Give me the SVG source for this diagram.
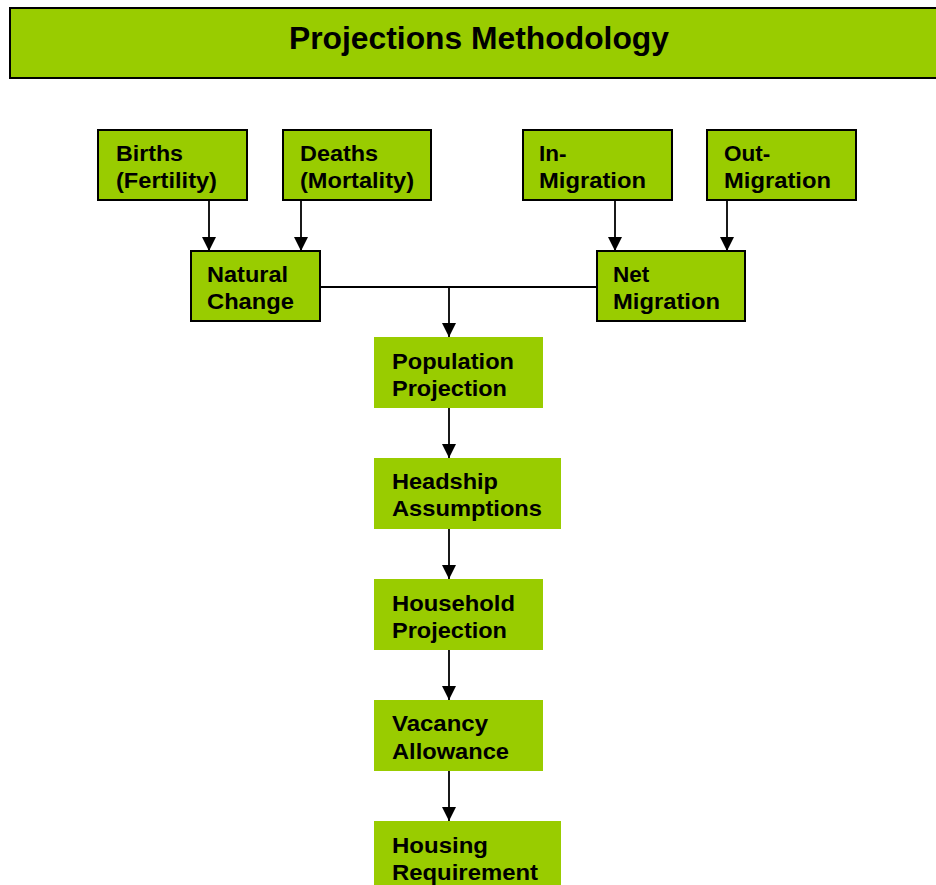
<svg xmlns="http://www.w3.org/2000/svg" width="936" height="885" viewBox="0 0 936 885">
<style>
.box{fill:#99CC00;stroke:#000;stroke-width:2}
.flat{fill:#99CC00}
.t{font-family:"Liberation Sans",Arial,sans-serif;font-weight:bold;font-size:22.5px;fill:#000}
.title{font-family:"Liberation Sans",Arial,sans-serif;font-weight:bold;font-size:32px;fill:#000}
.c{fill:none;stroke:#000;stroke-width:1.8}
</style>
<defs>
<marker id="ah" markerUnits="userSpaceOnUse" markerWidth="16" markerHeight="16" refX="14" refY="7" orient="auto">
<path d="M0,0 L14,7 L0,14 Z" fill="#000"/>
</marker>
</defs>
<g id="title">
<rect class="box" x="10" y="8" width="940" height="70"/>
<text class="title" x="289" y="49" textLength="380" lengthAdjust="spacingAndGlyphs">Projections Methodology</text>
</g>
<g id="connectors">
<line class="c" x1="209" y1="200" x2="209" y2="251" marker-end="url(#ah)"/>
<line class="c" x1="301" y1="200" x2="301" y2="251" marker-end="url(#ah)"/>
<line class="c" x1="615" y1="200" x2="615" y2="251" marker-end="url(#ah)"/>
<line class="c" x1="727" y1="200" x2="727" y2="251" marker-end="url(#ah)"/>
<line class="c" x1="320" y1="287" x2="597" y2="287"/>
<line class="c" x1="449" y1="287" x2="449" y2="337" marker-end="url(#ah)"/>
<line class="c" x1="449" y1="408" x2="449" y2="458" marker-end="url(#ah)"/>
<line class="c" x1="449" y1="529" x2="449" y2="579" marker-end="url(#ah)"/>
<line class="c" x1="449" y1="650" x2="449" y2="700" marker-end="url(#ah)"/>
<line class="c" x1="449" y1="771" x2="449" y2="821" marker-end="url(#ah)"/>
</g>
<g id="births">
<rect class="box" x="98" y="130" width="149" height="70"/>
<text class="t" x="116" y="161" textLength="67" lengthAdjust="spacingAndGlyphs">Births</text>
<text class="t" x="116" y="188" textLength="101" lengthAdjust="spacingAndGlyphs">(Fertility)</text>
</g>
<g id="deaths">
<rect class="box" x="283" y="130" width="148" height="70"/>
<text class="t" x="300" y="161" textLength="78" lengthAdjust="spacingAndGlyphs">Deaths</text>
<text class="t" x="300" y="188" textLength="114" lengthAdjust="spacingAndGlyphs">(Mortality)</text>
</g>
<g id="in-migration">
<rect class="box" x="523" y="130" width="149" height="70"/>
<text class="t" x="539" y="161">In-</text>
<text class="t" x="539" y="188" textLength="107" lengthAdjust="spacingAndGlyphs">Migration</text>
</g>
<g id="out-migration">
<rect class="box" x="707" y="130" width="149" height="70"/>
<text class="t" x="724" y="161">Out-</text>
<text class="t" x="724" y="188" textLength="107" lengthAdjust="spacingAndGlyphs">Migration</text>
</g>
<g id="natural-change">
<rect class="box" x="191" y="251" width="129" height="70"/>
<text class="t" x="207" y="282" textLength="81" lengthAdjust="spacingAndGlyphs">Natural</text>
<text class="t" x="207" y="309" textLength="87" lengthAdjust="spacingAndGlyphs">Change</text>
</g>
<g id="net-migration">
<rect class="box" x="597" y="251" width="148" height="70"/>
<text class="t" x="613" y="282">Net</text>
<text class="t" x="613" y="309" textLength="107" lengthAdjust="spacingAndGlyphs">Migration</text>
</g>
<g id="population-projection">
<rect class="flat" x="374" y="337" width="169" height="71"/>
<text class="t" x="392" y="369" textLength="122" lengthAdjust="spacingAndGlyphs">Population</text>
<text class="t" x="392" y="396" textLength="115" lengthAdjust="spacingAndGlyphs">Projection</text>
</g>
<g id="headship-assumptions">
<rect class="flat" x="374" y="458" width="187" height="71"/>
<text class="t" x="392" y="489" textLength="106" lengthAdjust="spacingAndGlyphs">Headship</text>
<text class="t" x="392" y="516" textLength="150" lengthAdjust="spacingAndGlyphs">Assumptions</text>
</g>
<g id="household-projection">
<rect class="flat" x="374" y="579" width="169" height="71"/>
<text class="t" x="392" y="611" textLength="123" lengthAdjust="spacingAndGlyphs">Household</text>
<text class="t" x="392" y="638" textLength="115" lengthAdjust="spacingAndGlyphs">Projection</text>
</g>
<g id="vacancy-allowance">
<rect class="flat" x="374" y="700" width="169" height="71"/>
<text class="t" x="392" y="731" textLength="96" lengthAdjust="spacingAndGlyphs">Vacancy</text>
<text class="t" x="392" y="759" textLength="117" lengthAdjust="spacingAndGlyphs">Allowance</text>
</g>
<g id="housing-requirement">
<rect class="flat" x="374" y="821" width="187" height="70"/>
<text class="t" x="392" y="853" textLength="96" lengthAdjust="spacingAndGlyphs">Housing</text>
<text class="t" x="392" y="880" textLength="146" lengthAdjust="spacingAndGlyphs">Requirement</text>
</g>
</svg>
